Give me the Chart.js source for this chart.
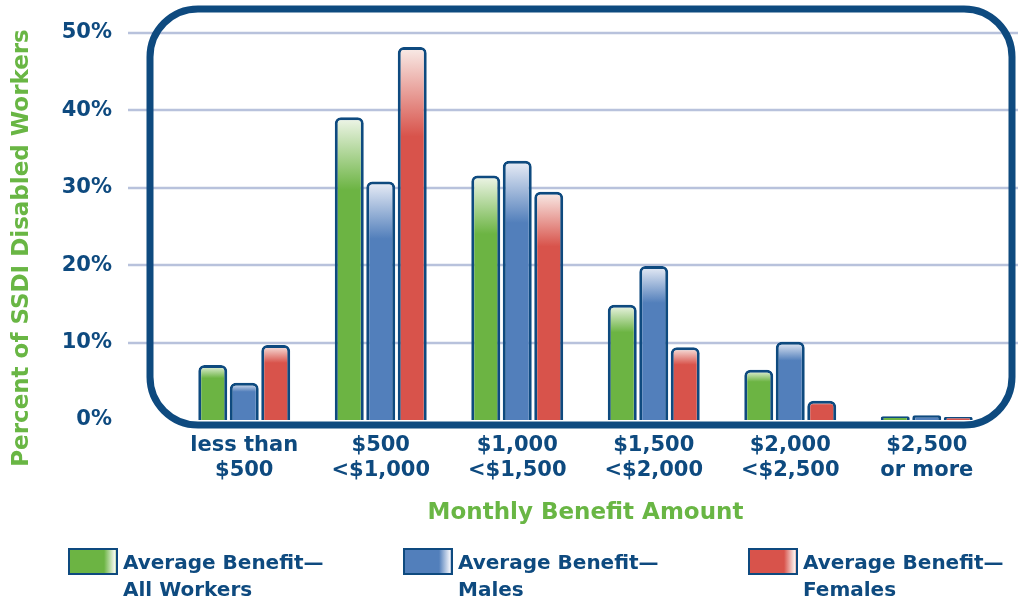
<!DOCTYPE html>
<html lang="en">
  <head>
    <meta charset="UTF-8" />
    <title>SSDI Monthly Benefit Amount</title>
    <script src="https://cdn.jsdelivr.net/npm/chart.js"></script>
    <style>
      html, body { margin: 0; padding: 0; background: #fff; }
      #wrap { width: 1018px; height: 602px; }
    </style>
  </head>
  <body>
    <div id="wrap"><canvas id="myChart" width="1018" height="602"></canvas></div>

    <script>
      // values (percent of SSDI disabled workers)
      const categories = [
        ['less than', '$500'],
        ['$500', '<$1,000'],
        ['$1,000', '<$1,500'],
        ['$1,500', '<$2,000'],
        ['$2,000', '<$2,500'],
        ['$2,500', 'or more']
      ];
      const allWorkers = [7.1, 39.1, 31.6, 14.9, 6.5, 0.5];
      const males = [4.8, 30.8, 33.5, 19.9, 10.1, 0.6];
      const females = [9.7, 48.2, 29.5, 9.4, 2.5, 0.4];
      const seriesNames = [
        ['Average Benefit\u2014', 'All Workers'],
        ['Average Benefit\u2014', 'Males'],
        ['Average Benefit\u2014', 'Females']
      ];
      const yTicks = [0, 10, 20, 30, 40, 50];

      const NAVY = '#0e4a7f';
      const GREEN_TXT = '#69b644';
      const FONT = "'DejaVu Sans', 'Open Sans', sans-serif";
      const fills = [
        { base: '#6cb443', light: '#f0f6ea' },
        { base: '#527fbb', light: '#eaeef7' },
        { base: '#d8534b', light: '#f9ede9' }
      ];

      function barFill(context, f) {
        const chart = context.chart;
        if (context.type !== 'data' || !chart.chartArea) return f.base;
        const y = chart.scales.y;
        const top = y.getPixelForValue(context.raw);
        const bottom = y.getPixelForValue(0);
        if (!isFinite(top) || bottom - top < 1) return f.base;
        const g = chart.ctx.createLinearGradient(0, top, 0, bottom);
        g.addColorStop(0, f.light);
        g.addColorStop(0.24, f.base);
        g.addColorStop(1, f.base);
        return g;
      }

      function makeSet(label, data, f) {
        return {
          label: label.join(' '),
          data: data,
          backgroundColor: ctx => barFill(ctx, f),
          borderColor: NAVY,
          borderWidth: 3,
          borderSkipped: 'bottom',
          borderRadius: { topLeft: 6, topRight: 6 },
          categoryPercentage: 0.692,
          barPercentage: 0.92
        };
      }

      // grid lines + rounded frame behind the bars, y title, legend
      const decor = {
        id: 'decor',
        beforeDatasetsDraw(chart) {
          const { ctx, chartArea: ca, scales } = chart;
          ctx.save();
          ctx.strokeStyle = '#b8c2dc';
          ctx.lineWidth = 2.5;
          yTicks.forEach(v => {
            const py = Math.round(scales.y.getPixelForValue(v));
            if (v === 0) return;
            ctx.beginPath();
            ctx.moveTo(ca.left - 48, py);
            ctx.lineTo(chart.width, py);
            ctx.stroke();
          });
          const l = ca.left - 26, t = ca.top - 24, r = ca.right + 17, b = ca.bottom + 5, rad = 48;
          ctx.strokeStyle = NAVY;
          ctx.lineWidth = 7;
          ctx.beginPath();
          ctx.roundRect(l, t, r - l, b - t, rad);
          ctx.stroke();
          ctx.restore();
        },
        afterDraw(chart) {
          const { ctx } = chart;
          ctx.save();
          // y axis title
          ctx.translate(22, 248);
          ctx.rotate(-Math.PI / 2);
          ctx.fillStyle = GREEN_TXT;
          ctx.font = 'bold 23px ' + FONT;
          ctx.textAlign = 'center';
          ctx.textBaseline = 'middle';
          ctx.fillText('Percent of SSDI Disabled Workers', 0, 0);
          ctx.restore();

          // legend
          const boxX = [68, 403, 748];
          chart.data.datasets.forEach((ds, i) => {
            const x = boxX[i], y = 548, w = 50, h = 27;
            const f = fills[i];
            const g = ctx.createLinearGradient(x, 0, x + w, 0);
            g.addColorStop(0, f.base);
            g.addColorStop(0.72, f.base);
            g.addColorStop(0.93, f.light);
            g.addColorStop(1, f.base);
            ctx.save();
            ctx.fillStyle = g;
            ctx.fillRect(x, y, w, h);
            ctx.strokeStyle = NAVY;
            ctx.lineWidth = 2;
            ctx.strokeRect(x + 1, y + 1, w - 2, h - 2);
            ctx.fillStyle = NAVY;
            ctx.font = 'bold 20px ' + FONT;
            ctx.textAlign = 'left';
            ctx.textBaseline = 'middle';
            ctx.fillText(seriesNames[i][0], x + 55, 564);
            ctx.fillText(seriesNames[i][1], x + 55, 591);
            ctx.restore();
          });
        }
      };

      const ctx = document.getElementById('myChart').getContext('2d');
      const myChart = new Chart(ctx, {
        type: 'bar',
        data: {
          labels: categories,
          datasets: [
            makeSet(seriesNames[0], allWorkers, fills[0]),
            makeSet(seriesNames[1], males, fills[1]),
            makeSet(seriesNames[2], females, fills[2])
          ]
        },
        options: {
          responsive: false,
          animation: false,
          layout: { padding: { top: 33, right: 23, bottom: 62, left: 0 } },
          plugins: {
            legend: { display: false },
            tooltip: { enabled: false }
          },
          scales: {
            x: {
              grid: { display: false, drawTicks: false },
              border: { display: false },
              ticks: {
                color: NAVY,
                font: { family: FONT, size: 21, weight: 'bold', lineHeight: 1.19 },
                padding: 13,
                maxRotation: 0,
                autoSkip: false
              },
              title: {
                display: true,
                text: 'Monthly Benefit Amount',
                color: GREEN_TXT,
                font: { family: FONT, size: 23, weight: 'bold', lineHeight: 1.2 },
                padding: { top: 0, bottom: 13 }
              },
              afterFit(scale) {
                scale.height = 120;
                scale.paddingLeft = 0;
                scale.paddingRight = 0;
              }
            },
            y: {
              min: 0,
              max: 50,
              grid: { display: false, drawTicks: false },
              border: { display: false },
              ticks: {
                stepSize: 10,
                color: NAVY,
                font: { family: FONT, size: 21, weight: 'bold' },
                padding: 64,
                callback: v => v + '%'
              },
              afterFit(scale) {
                scale.width = 176;
                scale.paddingTop = 0;
                scale.paddingBottom = 0;
              }
            }
          }
        },
        plugins: [decor]
      });
    </script>
  </body>
</html>
